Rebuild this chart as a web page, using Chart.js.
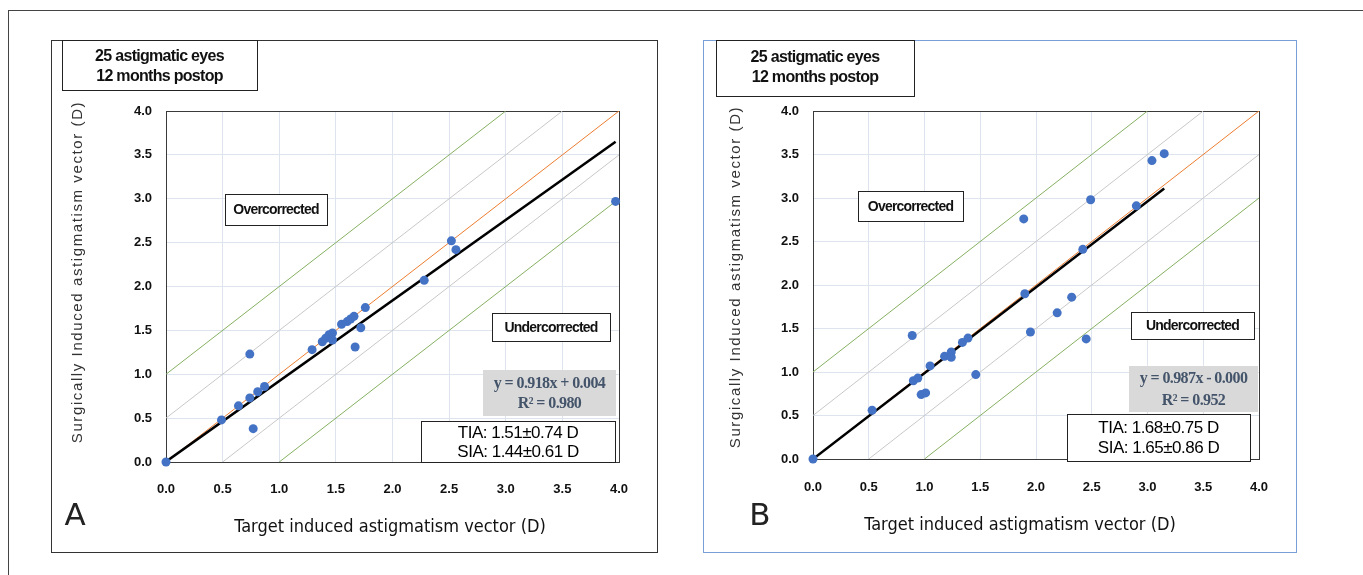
<!DOCTYPE html>
<html>
<head>
<meta charset="utf-8">
<script src="https://cdn.jsdelivr.net/npm/chart.js@4.4.1/dist/chart.umd.min.js"></script>
<style>
  body { margin:0; background:#fff; width:1363px; height:575px; overflow:hidden; position:relative; }
  #outer { position:absolute; left:8px; top:10px; width:1400px; height:600px; border:1px solid #444; }
  .panel { position:absolute; top:40px; height:513px; box-sizing:border-box; }
  #panelA { left:51px; width:607px; border:1px solid #333; }
  #panelB { left:703px; width:594px; border:1px solid #7a9fd8; }
  .panel canvas { position:absolute; left:-1px; top:-1px; }
</style>
</head>
<body>
<div id="outer"></div>
<div class="panel" id="panelA"><canvas id="chartA" width="607" height="513"></canvas></div>
<div class="panel" id="panelB"><canvas id="chartB" width="594" height="513"></canvas></div>
<script>
// axis ticks (both axes, both panels)
const tickLabels = ['0.0', '0.5', '1.0', '1.5', '2.0', '2.5', '3.0', '3.5', '4.0'];

// panel A: target induced (x) vs surgically induced (y) astigmatism, D
const tiaA = [0, 0.49, 0.64, 0.74, 0.81, 0.87, 0.74, 0.77, 1.29, 1.38, 1.41, 1.44, 1.47, 1.47, 1.55, 1.60, 1.63, 1.66, 1.72, 1.67, 1.76, 2.28, 2.52, 2.56, 3.97];
const siaA = [0, 0.48, 0.64, 0.73, 0.80, 0.86, 1.23, 0.38, 1.28, 1.37, 1.41, 1.45, 1.47, 1.39, 1.57, 1.60, 1.63, 1.66, 1.53, 1.31, 1.76, 2.07, 2.52, 2.42, 2.97];
const fitA = [[0, 0.004], [3.97, 3.649]];

// panel B
const tiaB = [0, 0.53, 0.89, 0.90, 0.94, 0.97, 1.01, 1.05, 1.18, 1.24, 1.24, 1.34, 1.39, 1.46, 1.89, 1.90, 1.95, 2.19, 2.32, 2.42, 2.45, 2.49, 2.90, 3.04, 3.15];
const siaB = [0, 0.56, 1.42, 0.90, 0.93, 0.74, 0.76, 1.07, 1.18, 1.17, 1.23, 1.34, 1.39, 0.97, 2.76, 1.90, 1.46, 1.68, 1.86, 2.41, 1.38, 2.98, 2.91, 3.43, 3.51];
const fitB = [[0, 0], [3.15, 3.109]];

// reference lines: perfect correction, +/-0.5 D, +/-1.0 D
const identity = [[0, 0], [4, 4]];
const half = [[[0, 0.5], [3.5, 4]], [[0.5, 0], [4, 3.5]]];
const one = [[[0, 1], [3, 4]], [[1, 0], [4, 3]]];

const titleLines = ['25 astigmatic eyes', '12 months postop'];
const yTitle = 'Surgically Induced astigmatism vector (D)';
const xTitle = 'Target induced astigmatism vector (D)';

const toPts = arr => arr.map(p => ({x: p[0], y: p[1]}));
const tickFont = {family: '"Liberation Sans Narrow", "Arial Narrow", Arial, sans-serif', size: 13, weight: 'bold'};

function txt(ctx, s, x, y, font, color, spacing) {
  ctx.font = font;
  ctx.fillStyle = color;
  ctx.letterSpacing = (spacing || 0) + 'px';
  ctx.textAlign = 'center';
  ctx.textBaseline = 'middle';
  ctx.fillText(s, x, y);
  ctx.letterSpacing = '0px';
}

function box(ctx, r, fill, stroke) {
  ctx.fillStyle = fill;
  ctx.fillRect(r[0], r[1], r[2] - r[0], r[3] - r[1]);
  if (stroke) {
    ctx.strokeStyle = stroke;
    ctx.lineWidth = 1;
    ctx.strokeRect(r[0] + 0.5, r[1] + 0.5, r[2] - r[0], r[3] - r[1]);
  }
}

const panelText = {
  id: 'panelText',
  beforeDatasetsDraw(chart) {
    const a = chart.chartArea, ctx = chart.ctx;
    ctx.save();
    ctx.strokeStyle = '#3a3a3a';
    ctx.lineWidth = 1;
    ctx.strokeRect(Math.round(a.left) + 0.5, Math.round(a.top) + 0.5, Math.round(a.right - a.left), Math.round(a.bottom - a.top));
    ctx.restore();
  },
  afterDatasetsDraw(chart, args, o) {
    const ctx = chart.ctx;
    ctx.save();
    box(ctx, o.title, '#fff', '#222');
    const tx = (o.title[0] + o.title[2]) / 2;
    txt(ctx, titleLines[0], tx, o.titleY[0], 'bold 16px "Liberation Sans", Arial, sans-serif', '#111', -0.7);
    txt(ctx, titleLines[1], tx, o.titleY[1], 'bold 16px "Liberation Sans", Arial, sans-serif', '#111', -0.7);

    box(ctx, o.over, '#fff', '#222');
    txt(ctx, 'Overcorrected', (o.over[0] + o.over[2]) / 2, (o.over[1] + o.over[3]) / 2 + 1, 'bold 14px "Liberation Sans", Arial, sans-serif', '#111', -0.8);
    box(ctx, o.under, '#fff', '#222');
    txt(ctx, 'Undercorrected', (o.under[0] + o.under[2]) / 2, (o.under[1] + o.under[3]) / 2 + 1, 'bold 14px "Liberation Sans", Arial, sans-serif', '#111', -0.8);

    box(ctx, o.eq, '#d9d9d9', null);
    const ex = (o.eq[0] + o.eq[2]) / 2;
    txt(ctx, o.eqText[0], ex, o.eqY[0], 'bold 16px "Liberation Serif", serif', '#44546a', -0.6);
    txt(ctx, o.eqText[1], ex, o.eqY[1], 'bold 16px "Liberation Serif", serif', '#44546a', -0.6);

    box(ctx, o.stats, '#fff', '#222');
    const sx = (o.stats[0] + o.stats[2]) / 2;
    txt(ctx, o.statText[0], sx, o.statY[0], '17px "Liberation Sans", Arial, sans-serif', '#000', -0.5);
    txt(ctx, o.statText[1], sx, o.statY[1], '17px "Liberation Sans", Arial, sans-serif', '#000', -0.5);

    txt(ctx, o.letter, o.letterPos[0], o.letterPos[1], '31px "DejaVu Sans", sans-serif', '#222', 0);
    txt(ctx, xTitle, o.xTitlePos[0], o.xTitlePos[1], '18px "DejaVu Sans Condensed", "Liberation Sans Narrow", sans-serif', '#111', 0);

    ctx.translate(o.yTitlePos[0], o.yTitlePos[1]);
    ctx.rotate(-Math.PI / 2);
    txt(ctx, yTitle, 0, 0, '15px "Liberation Sans", Arial, sans-serif', '#333', 1.6);
    ctx.restore();
  }
};

function lineSet(pts, color, width) {
  return {type: 'line', data: toPts(pts), borderColor: color, borderWidth: width, pointRadius: 0, fill: false, order: 2, tension: 0};
}

function makeChart(id, xs, ys, fit, lay, notes) {
  const datasets = [
    {type: 'scatter', data: xs.map((x, i) => ({x: x, y: ys[i]})), backgroundColor: '#4472c4', borderWidth: 0, pointRadius: 4.5, order: 0, clip: false},
    lineSet(fit, '#000', 2.5),
    lineSet(identity, '#ed7d31', 1),
    lineSet(half[0], '#c8c8c8', 1),
    lineSet(half[1], '#c8c8c8', 1),
    lineSet(one[0], '#86b062', 1),
    lineSet(one[1], '#86b062', 1)
  ];
  datasets[1].order = 1;
  const axis = (pad, fitFn) => ({
    type: 'linear', min: 0, max: 4,
    grid: {color: '#dde4ee', lineWidth: 1, drawTicks: false},
    border: {display: false},
    ticks: {stepSize: 0.5, padding: pad, color: '#111', font: tickFont, callback: (v, i) => tickLabels[i]},
    afterFit: fitFn
  });
  return new Chart(document.getElementById(id), {
    type: 'scatter',
    data: {datasets: datasets},
    options: {
      responsive: false, animation: false, devicePixelRatio: 1,
      layout: {padding: {left: 0, top: lay.top, right: lay.right, bottom: 0}},
      scales: {
        x: axis(lay.xPad, s => { s.height = lay.xH; }),
        y: axis(lay.yPad, s => { s.width = lay.yW; })
      },
      plugins: {legend: {display: false}, tooltip: {enabled: false}, panelText: notes}
    },
    plugins: [panelText]
  });
}

makeChart('chartA', tiaA, siaA, fitA,
  {top: 71, right: 39, yW: 115, xH: 91, xPad: 20, yPad: 14},
  {title: [11, 0, 206, 50], titleY: [17, 37], over: [174, 154, 276, 185], under: [441, 273, 559, 301],
   eq: [432, 330, 565, 376], eqY: [344, 364], eqText: ['y = 0.918x + 0.004', 'R\u00b2 = 0.980'],
   stats: [370, 381, 564, 422], statY: [393, 412], statText: ['TIA: 1.51\u00b10.74 D', 'SIA: 1.44\u00b10.61 D'],
   letter: 'A', letterPos: [24, 477], xTitlePos: [339, 487], yTitlePos: [27, 232]});

makeChart('chartB', tiaB, siaB, fitB,
  {top: 71, right: 38, yW: 110, xH: 94, xPad: 21, yPad: 14},
  {title: [13, 0, 211, 56], titleY: [18, 38], over: [155, 151, 260, 181], under: [428, 272, 551, 299],
   eq: [426, 326, 555, 372], eqY: [339, 361], eqText: ['y = 0.987x - 0.000', 'R\u00b2 = 0.952'],
   stats: [364, 374, 547, 421], statY: [388, 408], statText: ['TIA: 1.68\u00b10.75 D', 'SIA: 1.65\u00b10.86 D'],
   letter: 'B', letterPos: [57, 477], xTitlePos: [317, 485], yTitlePos: [33, 237]});
</script>
</body>
</html>
